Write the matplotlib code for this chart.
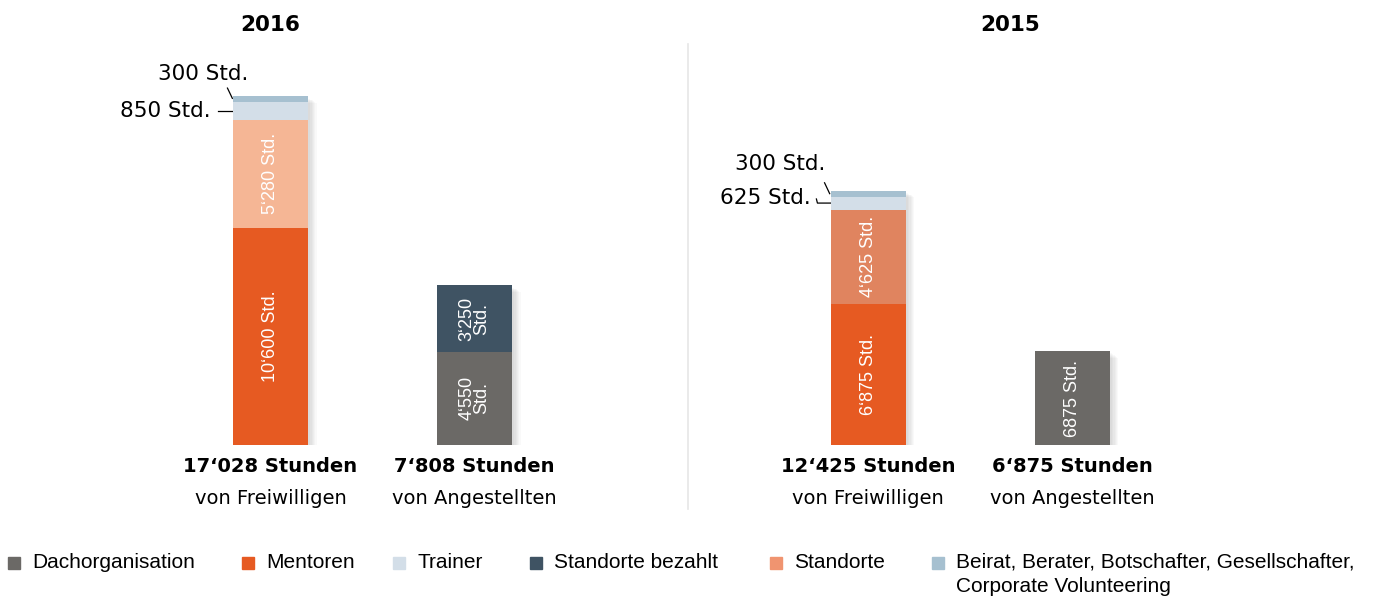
import matplotlib.pyplot as plt
from matplotlib.patches import Rectangle

# bar order: 2016 Freiwillige, 2016 Angestellte, 2015 Freiwillige, 2015 Angestellte
positions = [0, 1, 2.93, 3.93]

mentoren = [10600, 0, 6875, 0]
standorte = [5280, 0, 4625, 0]
trainer = [850, 0, 625, 0]
beirat = [300, 0, 300, 0]
dachorg = [0, 4550, 0, 4590]          # last bar is drawn shorter than its label in the original
standorte_bez = [0, 3250, 0, 0]

totals = ["17‘028 Stunden", "7‘808 Stunden", "12‘425 Stunden", "6‘875 Stunden"]
subtitles = ["von Freiwilligen", "von Angestellten", "von Freiwilligen", "von Angestellten"]
years = ["2016", "2015"]

legend_labels = ["Dachorganisation", "Mentoren", "Trainer", "Standorte bezahlt", "Standorte",
                 "Beirat, Berater, Botschafter, Gesellschafter,\nCorporate Volunteering"]

c_dach = "#6b6966"
c_ment = "#e65a22"
c_train = "#d3dee8"
c_bez = "#3f5363"
c_stand = "#f09470"
c_beirat = "#a6c0d0"
c_stand16 = "#f5b695"
c_stand15 = "#e0845f"

plt.rcParams['font.family'] = ['Liberation Sans', 'DejaVu Sans']
wide = ['DejaVu Sans']

fig = plt.figure(figsize=(13.86, 5.97), dpi=100)
ax = fig.add_axes([0, 152 / 597, 1, 430 / 597])
ax.set_xlim(-270.5 / 204, (1386 - 270.5) / 204)
ax.set_ylim(0, 21000)
ax.axis('off')

w = 0.368

# soft shadows
for i in range(4):
    total = mentoren[i] + standorte[i] + trainer[i] + beirat[i] + dachorg[i] + standorte_bez[i]
    for k in range(6):
        ax.bar(positions[i] + 0.012 + k * 0.006, total, width=w, bottom=-120 - k * 40,
               color="#000000", alpha=0.025, zorder=1)

stand_cols = [c_stand16, c_stand16, c_stand15, c_stand15]
b = [0, 0, 0, 0]
for vals, cols in [(mentoren, [c_ment] * 4), (dachorg, [c_dach] * 4),
                   (standorte, stand_cols), (standorte_bez, [c_bez] * 4),
                   (trainer, [c_train] * 4), (beirat, [c_beirat] * 4)]:
    ax.bar(positions, vals, width=w, bottom=b, color=cols, zorder=3)
    b = [x + v for x, v in zip(b, vals)]

txt = dict(color="white", rotation=90, ha="center", va="center", fontsize=13, zorder=5,
           linespacing=0.85)
ax.text(positions[0], mentoren[0] / 2, "10‘600 Std.", **txt)
ax.text(positions[0], mentoren[0] + standorte[0] / 2, "5‘280 Std.", **txt)
ax.text(positions[1], dachorg[1] / 2, "4‘550\nStd.", **txt)
ax.text(positions[1], dachorg[1] + standorte_bez[1] / 2, "3‘250\nStd.", **txt)
ax.text(positions[2], mentoren[2] / 2, "6‘875 Std.", **txt)
ax.text(positions[2], mentoren[2] + standorte[2] / 2, "4‘625 Std.", **txt)
ax.text(positions[3], dachorg[3] / 2, "6875 Std.", **txt)

# small segment labels with leader lines
top16 = mentoren[0] + standorte[0] + trainer[0]
top15 = mentoren[2] + standorte[2] + trainer[2]
lx0 = positions[0] - w / 2
lx2 = positions[2] - w / 2
ann = dict(ha="right", va="center", fontsize=15.5, family=wide)
ax.text(lx0 + 0.075, top16 + 1370, "300 Std.", **ann)
ax.plot([lx0 - 0.027, lx0 - 0.003], [top16 + 700, top16 + 200], color="black", lw=0.9)
ax.text(lx0 - 0.11, top16 - 440, "850 Std.", **ann)
ax.plot([lx0 - 0.075, lx0 - 0.005], [top16 - 440, top16 - 440], color="black", lw=0.9)

ax.text(lx2 - 0.025, top15 + 1610, "300 Std.", **ann)
ax.plot([lx2 - 0.03, lx2 - 0.005], [top15 + 680, top15 + 150], color="black", lw=0.9)
ax.text(lx2 - 0.1, top15 - 60, "625 Std.", **ann)
ax.plot([lx2 - 0.07, lx2 - 0.065, lx2], [top15 - 110, top15 - 310, top15 - 310],
        color="black", lw=0.9)

for p, t, s in zip(positions, totals, subtitles):
    ax.text(p, -1050, t, ha="center", va="center", fontsize=14, fontweight="bold", family=wide)
    ax.text(p, -2600, s, ha="center", va="center", fontsize=14, family=wide)

for p, y in zip([positions[0], positions[3] - 0.305], years):
    ax.text(p, 20510, y, ha="center", va="center", fontsize=15.5, fontweight="bold",
            family=wide, clip_on=False)

# divider
fig.add_artist(plt.Line2D([688 / 1386, 688 / 1386], [1 - 44 / 597, 1 - 509 / 597],
                          color="#e6e6e6", lw=1.2))

# legend
leg_cols = [c_dach, c_ment, c_train, c_bez, c_stand, c_beirat]
leg_x = [8, 242, 393, 530, 770, 932]
for x, c, lab in zip(leg_x, leg_cols, legend_labels):
    fig.add_artist(Rectangle((x / 1386, 1 - 569 / 597), 12 / 1386, 12 / 597,
                             color=c, transform=fig.transFigure))
    lines = lab.split("\n")
    for j, line in enumerate(lines):
        fig.text((x + 24) / 1386, 1 - (562 + 25 * j) / 597, line, fontsize=15,
                 va="center", ha="left")

fig.savefig("out.png", dpi=100)
